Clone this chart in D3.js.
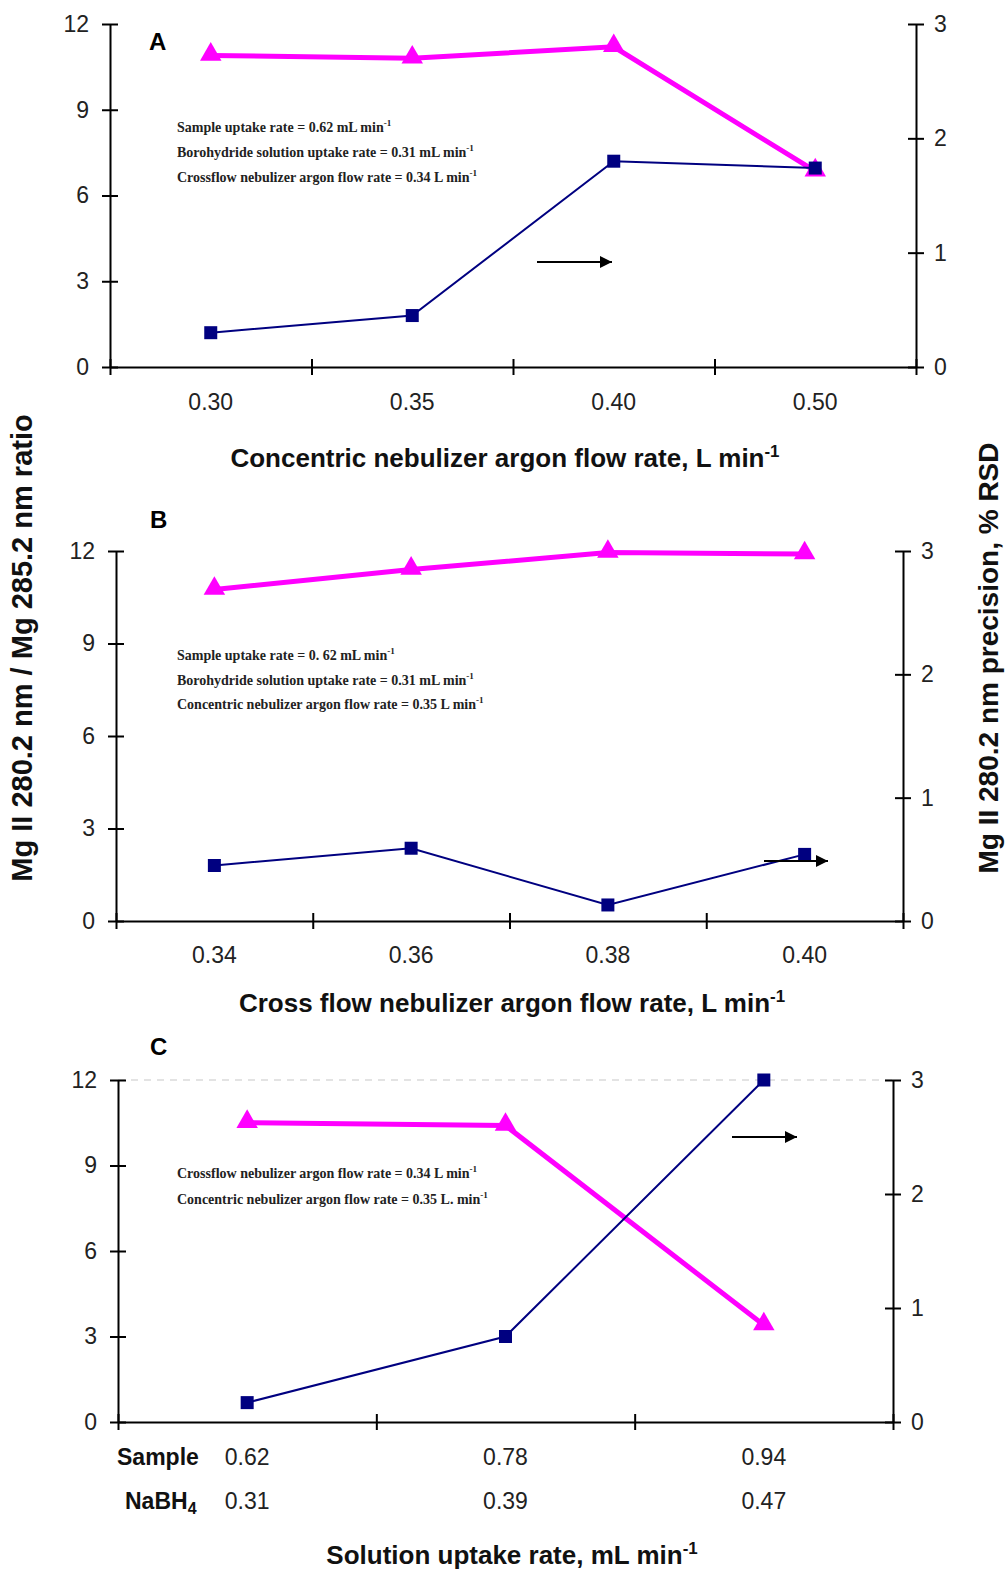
<!DOCTYPE html>
<html>
<head>
<meta charset="utf-8">
<script src="https://cdn.jsdelivr.net/npm/d3@7"></script>
<style>
  body { margin: 0; background: #fff; }
  svg { display: block; }
</style>
</head>
<body>
<script>
// ---- data ----
var catA = ["0.30", "0.35", "0.40", "0.50"];
var ratioA = [10.9, 10.8, 11.2, 6.85];
var rsdA = [0.30, 0.45, 1.80, 1.74];

var catB = ["0.34", "0.36", "0.38", "0.40"];
var ratioB = [10.75, 11.4, 11.95, 11.9];
var rsdB = [0.45, 0.59, 0.13, 0.54];

var sampleC = ["0.62", "0.78", "0.94"];
var nabh4C = ["0.31", "0.39", "0.47"];
var ratioC = [10.5, 10.4, 3.4];
var rsdC = [0.17, 0.75, 3.0];

var leftTicks = [0, 3, 6, 9, 12];
var rightTicks = [0, 1, 2, 3];

var notesA = [["Sample uptake rate = 0.62 mL min", "-1"],
              ["Borohydride solution uptake rate = 0.31 mL min", "-1"],
              ["Crossflow nebulizer argon flow rate = 0.34 L min", "-1"]];
var notesB = [["Sample uptake rate = 0. 62 mL min", "-1"],
              ["Borohydride solution uptake rate = 0.31 mL min", "-1"],
              ["Concentric nebulizer argon flow rate = 0.35 L min", "-1"]];
var notesC = [["Crossflow nebulizer argon flow rate = 0.34 L min", "-1"],
              ["Concentric nebulizer argon flow rate = 0.35 L. min", "-1"]];

var W = 1006, H = 1573;
var magenta = "#ff00ff", navy = "#000080";
var sans = "'Liberation Sans', Arial, sans-serif";
var serif = "'Liberation Serif', 'Times New Roman', serif";

var svg = d3.select("body").append("svg")
    .attr("width", W).attr("height", H)
    .attr("font-family", sans);

svg.append("defs").append("marker")
    .attr("id", "head")
    .attr("viewBox", "0 0 10 10")
    .attr("refX", 10).attr("refY", 5)
    .attr("markerUnits", "userSpaceOnUse")
    .attr("markerWidth", 17).attr("markerHeight", 12)
    .attr("orient", "auto")
    .append("path").attr("d", "M0,0L10,5L0,10Z").attr("fill", "#000");

function supText(sel, main, sup, size) {
    sel.append("tspan").text(main);
    sel.append("tspan").attr("dy", -size * 0.4).attr("font-size", size * 0.65).text(sup);
}

function drawPanel(p) {
    var g = svg.append("g");
    var x = d3.scaleBand().domain(d3.range(p.ratio.length)).range([p.left, p.right]);
    var xb = d3.scaleLinear().domain([0, p.ratio.length]).range([p.left, p.right]);
    var yL = d3.scaleLinear().domain([0, 12]).range([p.bottom, p.top]);
    var yR = d3.scaleLinear().domain([0, 3]).range([p.bottom, p.top]);
    var cx = function (i) { return x(i) + x.bandwidth() / 2; };

    if (p.grid) {
        g.append("line")
            .attr("x1", p.left).attr("x2", p.right)
            .attr("y1", yL(12)).attr("y2", yL(12))
            .attr("stroke", "#c8c8c8").attr("stroke-width", 1.2)
            .attr("stroke-dasharray", "7,6");
    }

    var ax = function (s) {
        s.select(".domain").attr("stroke-width", 2);
        s.selectAll(".tick line").attr("stroke-width", 2);
        s.selectAll("text").attr("font-size", 23).attr("font-family", sans).attr("fill", "#222");
    };

    g.append("g").attr("transform", "translate(" + p.left + ",0)")
        .call(d3.axisLeft(yL).tickValues(leftTicks).tickSize(8).tickSizeOuter(0).tickPadding(13))
        .call(ax)
        .call(function (s) { s.selectAll(".tick line").attr("x1", 8); });

    g.append("g").attr("transform", "translate(" + p.right + ",0)")
        .call(d3.axisRight(yR).tickValues(rightTicks).tickFormat(d3.format("d"))
            .tickSize(8).tickSizeOuter(0).tickPadding(10))
        .call(ax)
        .call(function (s) { s.selectAll(".tick line").attr("x1", -8); });

    g.append("g").attr("transform", "translate(0," + p.bottom + ")")
        .call(d3.axisBottom(xb).tickValues(d3.range(p.ratio.length + 1)).tickFormat("").tickSize(8).tickSizeOuter(0))
        .call(ax)
        .call(function (s) { s.selectAll(".tick line").attr("y1", -8); });

    // category labels
    p.labels.forEach(function (row) {
        g.selectAll(null).data(row.values).join("text")
            .attr("x", function (d, i) { return cx(i); })
            .attr("y", row.y)
            .attr("text-anchor", "middle")
            .attr("font-size", 23).attr("fill", "#222")
            .text(function (d) { return d; });
    });

    // lines
    var lineL = d3.line().x(function (d, i) { return cx(i); }).y(function (d) { return yL(d); });
    var lineR = d3.line().x(function (d, i) { return cx(i); }).y(function (d) { return yR(d); });

    g.append("path").datum(p.ratio).attr("d", lineL)
        .attr("fill", "none").attr("stroke", magenta).attr("stroke-width", 5);
    g.append("path").datum(p.rsd).attr("d", lineR)
        .attr("fill", "none").attr("stroke", navy).attr("stroke-width", 2);

    g.selectAll(null).data(p.ratio).join("path")
        .attr("transform", function (d, i) { return "translate(" + cx(i) + "," + (yL(d) - 1) + ")"; })
        .attr("d", d3.symbol(d3.symbolTriangle, 200))
        .attr("fill", magenta);
    g.selectAll(null).data(p.rsd).join("rect")
        .attr("x", function (d, i) { return cx(i) - 6.5; })
        .attr("y", function (d) { return yR(d) - 6.5; })
        .attr("width", 13).attr("height", 13)
        .attr("fill", navy);

    // panel letter
    g.append("text").attr("x", p.letterX).attr("y", p.letterY)
        .attr("font-size", 24).attr("font-weight", "bold").text(p.letter);

    // notes
    p.notes.forEach(function (n, i) {
        g.append("text").attr("x", p.noteX).attr("y", p.noteY + i * p.noteGap)
            .attr("font-family", serif).attr("font-weight", "bold")
            .attr("font-size", 14).attr("fill", "#222")
            .call(supText, n[0], n[1], 14);
    });

    // arrow towards right axis
    g.append("line")
        .attr("x1", p.arrow[0]).attr("x2", p.arrow[1])
        .attr("y1", p.arrow[2]).attr("y2", p.arrow[2])
        .attr("stroke", "#000").attr("stroke-width", 2.2)
        .attr("marker-end", "url(#head)");

    // x title
    g.append("text").attr("x", p.titleX).attr("y", p.titleY)
        .attr("text-anchor", "middle").attr("font-size", 26).attr("font-weight", "bold")
        .attr("fill", "#111")
        .call(supText, p.title, "-1", 26);
}

drawPanel({
    left: 110, right: 916, top: 24, bottom: 367,
    ratio: ratioA, rsd: rsdA,
    labels: [{ values: catA, y: 410 }],
    letter: "A", letterX: 149, letterY: 50,
    notes: notesA, noteX: 177, noteY: 132, noteGap: 25,
    arrow: [537, 612, 262],
    title: "Concentric nebulizer argon flow rate, L min", titleX: 505, titleY: 467
});

drawPanel({
    left: 116, right: 903, top: 551, bottom: 921,
    ratio: ratioB, rsd: rsdB,
    labels: [{ values: catB, y: 963 }],
    letter: "B", letterX: 150, letterY: 528,
    notes: notesB, noteX: 177, noteY: 660, noteGap: 24.5,
    arrow: [764, 828, 861],
    title: "Cross flow nebulizer argon flow rate, L min", titleX: 512, titleY: 1012
});

drawPanel({
    left: 118, right: 893, top: 1080, bottom: 1422, grid: true,
    ratio: ratioC, rsd: rsdC,
    labels: [{ values: sampleC, y: 1465 }, { values: nabh4C, y: 1509 }],
    letter: "C", letterX: 150, letterY: 1055,
    notes: notesC, noteX: 177, noteY: 1178, noteGap: 26,
    arrow: [732, 797, 1137],
    title: "Solution uptake rate, mL min", titleX: 512, titleY: 1564
});

// row labels under panel C
svg.append("text").attr("x", 117).attr("y", 1465)
    .attr("font-size", 23).attr("font-weight", "bold").attr("fill", "#111").text("Sample");
var nb = svg.append("text").attr("x", 125).attr("y", 1509)
    .attr("font-size", 23).attr("font-weight", "bold").attr("fill", "#111");
nb.append("tspan").text("NaBH");
nb.append("tspan").attr("dy", 5).attr("font-size", 16).text("4");

// shared y titles
svg.append("text")
    .attr("transform", "translate(32,648) rotate(-90)")
    .attr("text-anchor", "middle").attr("font-size", 29).attr("font-weight", "bold").attr("fill", "#111")
    .text("Mg II 280.2 nm / Mg 285.2 nm ratio");
svg.append("text")
    .attr("transform", "translate(998,658) rotate(-90)")
    .attr("text-anchor", "middle").attr("font-size", 28).attr("font-weight", "bold").attr("fill", "#111")
    .text("Mg II 280.2 nm precision, % RSD");
</script>
</body>
</html>
